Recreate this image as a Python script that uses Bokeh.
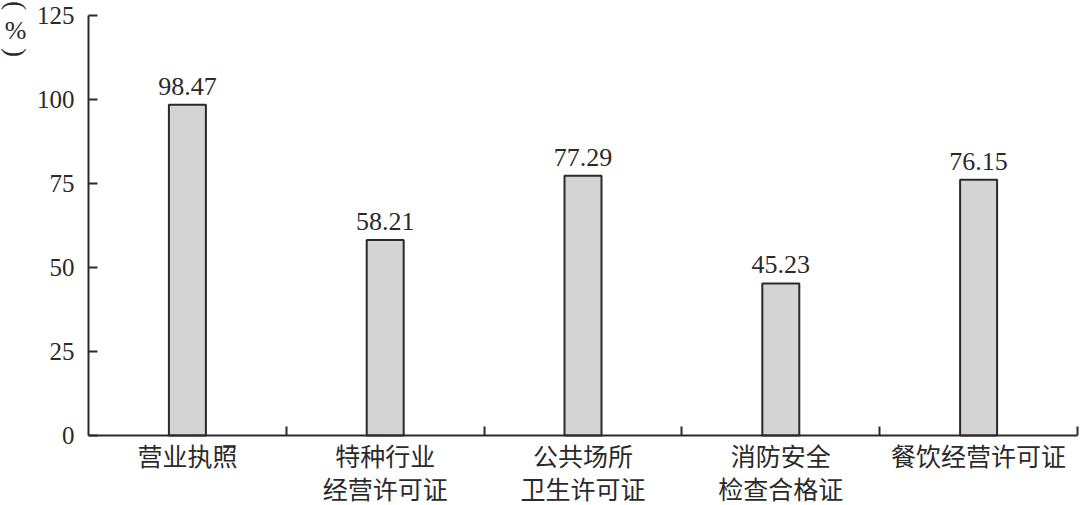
from bokeh.plotting import figure
from bokeh.models import ColumnDataSource, LabelSet, Label, FixedTicker, Range1d
from bokeh.transform import dodge
from bokeh.core.properties import value
from bokeh.embed import file_html
from bokeh.resources import INLINE
import math

# ---- data ----
categories = ["营业执照", "特种行业\n经营许可证", "公共场所\n卫生许可证", "消防安全\n检查合格证", "餐饮经营许可证"]
values = [98.47, 58.21, 77.29, 45.23, 76.15]
value_text = ["98.47", "58.21", "77.29", "45.23", "76.15"]
y_ticks = [0, 25, 50, 75, 100, 125]

INK = "#2a2a2a"
SERIF = "Liberation Serif"
CJK = "Noto Sans CJK SC"

n = len(categories)
centers = [i + 0.5 for i in range(n)]      # category slots on the x scale
bounds = [i + 1.0 for i in range(n)]       # slot boundaries (tick marks)

src = ColumnDataSource(dict(x=centers, value=values, vtext=value_text))

PX_X = 197.8   # pixels per category slot
PX_Y = 3.36    # pixels per percent
W, H = 1088, 513
LEFT, ZERO_Y, TOP125 = 96, 443, 23   # in canvas pixels

x_range = Range1d(-LEFT / PX_X, (W - LEFT) / PX_X)
y_range = Range1d(-(H - ZERO_Y) / PX_Y, 125 + TOP125 / PX_Y)

p = figure(width=W, height=H, x_range=x_range, y_range=y_range,
           output_backend="svg", toolbar_location=None,
           min_border_left=0, min_border_right=0, min_border_top=0, min_border_bottom=0)
p.margin = (-8, 0, 0, -8)
p.outline_line_color = None
p.background_fill_color = "white"
p.border_fill_color = "white"
p.xgrid.visible = False
p.ygrid.visible = False

# bars
p.vbar(x="x", top="value", width=0.187, source=src, fill_color="#d4d4d4",
       line_color=INK, line_width=2)

# value labels
p.add_layout(LabelSet(x="x", y=dodge("value", 3.0), text="vtext", source=src,
                      text_align="center", text_baseline="alphabetic",
                      text_font=value(SERIF), text_font_size="26px", text_color=INK))

# x axis: labels at category centres, tick marks at slot boundaries
xa = p.xaxis[0]
xa.fixed_location = 0
xa.bounds = (0, n)
xa.ticker = FixedTicker(ticks=centers, minor_ticks=bounds)
xa.major_label_overrides = {c: lab for c, lab in zip(centers, categories)}
xa.axis_line_color = INK
xa.axis_line_width = 2
xa.major_tick_line_color = None
xa.minor_tick_line_color = INK
xa.minor_tick_line_width = 2
xa.minor_tick_in = 9
xa.minor_tick_out = 0
xa.major_tick_in = 0
xa.major_tick_out = 0
xa.major_label_standoff = 1
xa.major_label_text_font = CJK
xa.major_label_text_font_size = "25px"
xa.major_label_text_color = INK
xa.major_label_text_line_height = 0.94

# y axis
ya = p.yaxis[0]
ya.fixed_location = 0
ya.bounds = (0, 125)
ya.ticker = FixedTicker(ticks=y_ticks)
ya.axis_line_color = INK
ya.axis_line_width = 2
ya.major_tick_line_color = INK
ya.major_tick_line_width = 2
ya.major_tick_in = 9
ya.major_tick_out = 0
ya.minor_tick_line_color = None
ya.major_label_standoff = 14
ya.major_label_text_font = SERIF
ya.major_label_text_font_size = "25px"
ya.major_label_text_color = INK

# vertical unit label "(%)" at the top of the value axis
ux = -73 / PX_X
p.add_layout(Label(x=ux, y=128.0, text="(", angle=-math.pi / 2, text_align="center",
                   text_baseline="middle", text_font=SERIF, text_font_size="27px",
                   text_color=INK))
p.add_layout(Label(x=ux, y=120.6, text="%", text_align="center", text_baseline="middle",
                   text_font=SERIF, text_font_size="26px", text_color=INK))
p.add_layout(Label(x=ux, y=114.0, text=")", angle=-math.pi / 2, text_align="center",
                   text_baseline="middle", text_font=SERIF, text_font_size="27px",
                   text_color=INK))

open("out.html", "w").write(file_html(p, INLINE))
